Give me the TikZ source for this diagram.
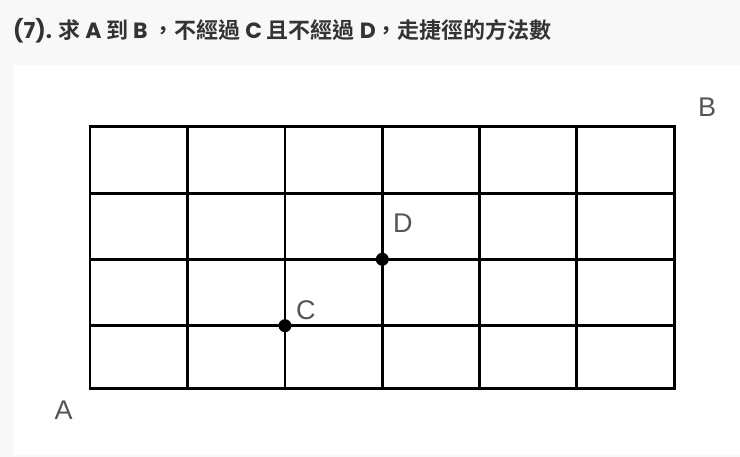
\documentclass[tikz,border=0pt]{standalone}
\usepackage{fontspec}
\setmainfont{Liberation Sans}
\newfontfamily\popb{Poppins Bold}
\newfontfamily\cjkb{Noto Sans CJK TC Bold}
\definecolor{bgc}{HTML}{F8F8F8}
\definecolor{labc}{HTML}{555555}
\definecolor{titc}{HTML}{333333}
\begin{document}
\begin{tikzpicture}[x=1pt,y=-1pt,
  gridline/.style={line width=2.6pt,black,line cap=rect},
  ptdot/.style={circle,fill=black,inner sep=0pt,minimum size=13pt},
  ptlabel/.style={anchor=base west,inner sep=0pt,text=labc,font=\fontsize{27}{27}\selectfont},
  titlestyle/.style={anchor=base west,inner sep=0pt,text=titc,font=\fontsize{22}{22}\selectfont}]
\useasboundingbox (0,0) rectangle (740,457);
\fill[bgc] (0,0) rectangle (740,457);
\fill[white] (13,65) rectangle (740,455);
\node[titlestyle] (title) at (13,38.5) {\popb(7). \cjkb 求 \popb A \cjkb 到 \popb B \cjkb ，不經過 \popb C \cjkb 且不經過 \popb D\cjkb ，走捷徑的方法數};
% grid
\foreach \x in {90,187.5,285,382.3,479.5,576.7,674.3}
  \draw[gridline] (\x,126.7) -- (\x,388.3);
\foreach \y in {126.7,193.3,259.3,325.7,388.3}
  \draw[gridline] (90,\y) -- (674.3,\y);
\node[ptdot] (c) at (285,325.7) {};
\node[ptdot] (d) at (382.3,259.3) {};
\node[ptlabel] (la) at (54.5,420) {A};
\node[ptlabel] (lb) at (698,117) {B};
\node[ptlabel] (lc) at (296,320) {C};
\node[ptlabel] (ld) at (393,232.3) {D};
\end{tikzpicture}
\end{document}
